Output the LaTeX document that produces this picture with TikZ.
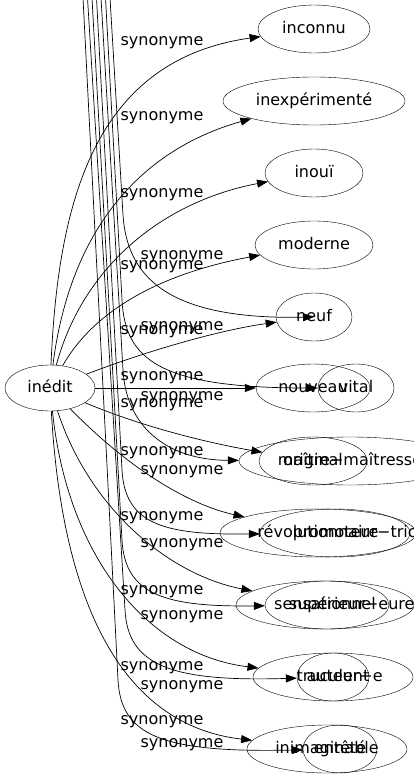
\documentclass[tikz,border=0pt]{standalone}
\usepackage{fontspec}
\setmainfont{DejaVu Sans}
\usetikzlibrary{arrows.meta,shapes.geometric}

\begin{document}
\begin{tikzpicture}[
  x=1pt,y=-1pt,
  font=\fontsize{16}{19}\selectfont,
  word/.style={draw,ellipse,inner sep=0pt,minimum height=48pt,
    text height=12pt,text depth=4pt,
    execute at begin node={\hbox to 0pt\bgroup\hss},
    execute at end node={\hss\egroup}},
  lab/.style={inner sep=0pt},
  arr/.style={-{Triangle[length=11pt,width=8pt]},line width=0.7pt}
]
\useasboundingbox (0,0) rectangle (414,779);
\clip (0,0) rectangle (414,779);

\node[word,minimum width=90pt,minimum height=46pt] (ined) at (50,388) {inédit};
\node[word,minimum width=112pt] (inconnu) at (314,29) {inconnu};
\node[word,minimum width=182pt] (inexp) at (314,101) {inexpérimenté};
\node[word,minimum width=98pt] (inoui) at (314,173) {inouï};
\node[word,minimum width=118pt] (moderne) at (314,245) {moderne};
\node[word,minimum width=76pt] (neuf) at (314,317) {neuf};
\node[word,minimum width=114pt] (nouveau) at (313,388) {nouveau};
\node[word,minimum width=76pt] (vital) at (356,388) {vital};
\node[word,minimum width=222pt] (maitre) at (350,461) {maître−maîtresse};
\node[word,minimum width=108pt] (original) at (313,461) {original};
\node[word,minimum width=196pt] (revol) at (318,533) {révolutionnaire};
\node[word,minimum width=150pt] (promo) at (335,533) {promoteur\rlap{−trice}};
\node[word,minimum width=178pt] (sensa) at (325,605) {sensationnel};
\node[word,minimum width=124pt] (superieur) at (327,605) {supérieur\rlap{−eure}};
\node[word,minimum width=160pt] (trucu) at (333,677) {truculent};
\node[word,minimum width=72pt] (auteur) at (333,677) {auteur\rlap{−e}};
\node[word,minimum width=160pt] (inimag) at (327,749) {inimaginable};
\node[word,minimum width=74pt] (entete) at (340,749) {entêté};

\draw[arr] (ined) .. controls (58,200) and (95,60) .. (inconnu);
\draw[arr] (ined) .. controls (70,230) and (140,150) .. (inexp);
\draw[arr] (ined) .. controls (85,260) and (170,200) .. (inoui);
\draw[arr] (ined) .. controls (100,300) and (180,270) .. (moderne);
\draw[arr] (ined) .. controls (150,350) and (220,330) .. (neuf);
\draw[arr] (ined) -- (nouveau);
\draw[arr] (ined) .. controls (150,430) and (220,445) .. (original);
\draw[arr] (ined) .. controls (130,470) and (190,505) .. (revol);
\draw[arr] (ined) .. controls (90,510) and (170,575) .. (sensa);
\draw[arr] (ined) .. controls (68,560) and (150,655) .. (trucu);
\draw[arr] (ined) .. controls (62,600) and (120,725) .. (inimag);

\foreach \x [count=\i] in {83,87.5,92,96.5,101,105.5,110}
  \coordinate (src\i) at (\x,-2);
\draw[arr] (src7) -- (123,215) .. controls (127,275) and (165,320) .. (neuf.center);
\draw[arr] (src6) -- (122,300) .. controls (125,360) and (160,388) .. (vital);
\draw[arr] (src5) -- (123,370) .. controls (126,425) and (165,460) .. (maitre);
\draw[arr] (src4) -- (122,470) .. controls (125,525) and (165,535) .. (promo);
\draw[arr] (src3) -- (122,540) .. controls (125,595) and (165,607) .. (superieur);
\draw[arr] (src2) -- (125,610) .. controls (128,665) and (170,682) .. (auteur);
\draw[arr] (src1) -- (118,680) .. controls (121,735) and (160,753) .. (entete);

\foreach \y [count=\i] in {43,118,195,267,332,378,405,453,518,592,668,722}
  \node[lab] (syn\i) at (162,\y) {synonyme};
\foreach \y [count=\i from 13] in {257,328,398,472,545,617,687,745}
  \node[lab] (syn\i) at (182,\y) {synonyme};
\end{tikzpicture}
\end{document}
